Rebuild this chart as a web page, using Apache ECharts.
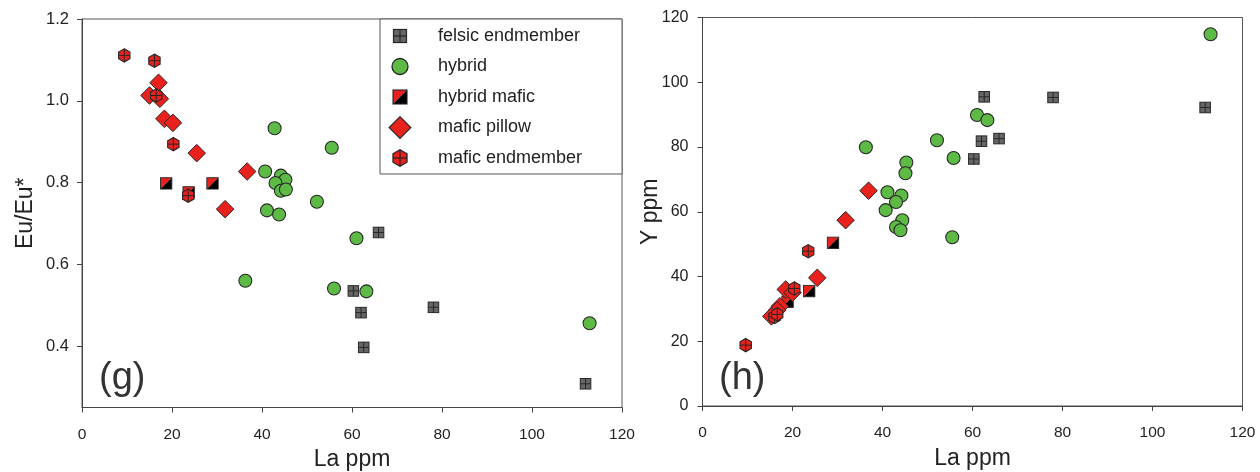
<!DOCTYPE html>
<html>
<head>
<meta charset="utf-8">
<title>Eu/Eu* and Y vs La</title>
<script src="https://cdn.jsdelivr.net/npm/echarts@6/dist/echarts.min.js"></script>
<style>
  html, body { margin: 0; padding: 0; background: #fff; }
  #main { width: 1260px; height: 472px; }
</style>
</head>
<body>
<div id="main"></div>
<script>
// La ppm vs Eu/Eu*  (panel g)
var felsicG = [[65.9, 0.678], [60.3, 0.535], [62.0, 0.482], [62.6, 0.397], [78.1, 0.495], [111.9, 0.308]];
var hybridG = [[42.8, 0.933], [55.5, 0.885], [40.7, 0.827], [44.2, 0.817], [45.2, 0.807], [43.0, 0.799],
    [44.2, 0.780], [45.3, 0.783], [52.2, 0.753], [41.1, 0.732], [43.8, 0.722], [61.0, 0.664],
    [36.3, 0.560], [56.0, 0.541], [63.2, 0.534], [112.8, 0.456]];
var hybridMaficG = [[18.7, 0.798], [29.0, 0.798], [23.7, 0.776]];
var pillowG = [[17.0, 1.044], [15.0, 1.013], [17.3, 1.005], [18.3, 0.956], [20.2, 0.946], [25.5, 0.872],
    [36.7, 0.827], [31.8, 0.735]];
var endmemberG = [[9.4, 1.111], [16.1, 1.098], [16.5, 1.013], [20.3, 0.894], [23.6, 0.768]];

// La ppm vs Y ppm  (panel h)
var felsicH = [[62.6, 95.5], [77.9, 95.3], [111.7, 92.2], [62.0, 81.8], [65.9, 82.6], [60.3, 76.3]];
var hybridH = [[36.3, 79.9], [52.1, 82.1], [55.8, 76.6], [61.0, 89.9], [63.3, 88.3], [45.3, 75.2],
    [45.1, 71.9], [41.1, 66.0], [44.2, 65.0], [43.0, 63.0], [40.7, 60.5], [44.4, 57.4],
    [43.0, 55.3], [44.0, 54.3], [55.5, 52.1], [112.9, 114.8]];
var hybridMaficH = [[29.0, 50.4], [23.7, 35.5], [18.9, 32.2]];
var pillowH = [[36.9, 66.5], [31.8, 57.4], [25.5, 39.6], [18.5, 36.0], [17.2, 30.8], [16.6, 29.6],
    [15.3, 27.7], [20.0, 35.0]];
var endmemberH = [[9.6, 18.8], [16.0, 27.5], [16.6, 28.3], [20.4, 36.3], [23.5, 47.8]];

var groupNames = ['felsic endmember', 'hybrid', 'hybrid mafic', 'mafic pillow', 'mafic endmember'];
var euTicks = [0.4, 0.6, 0.8, 1.0, 1.2];

// marker pictures (24x24 box so legend and plot keep relative sizes)
function svgIcon(body) {
    var svg = '<svg xmlns="http://www.w3.org/2000/svg" width="48" height="48" viewBox="0 0 24 24">' + body + '</svg>';
    return 'image://data:image/svg+xml;charset=utf-8,' + encodeURIComponent(svg);
}
var RED = '#e8211d', GREEN = '#5dba45', GRAY = '#666', EDGE = '#262626';
var icons = [
    svgIcon('<rect x="5.5" y="5.5" width="13" height="13" fill="' + GRAY + '" stroke="' + EDGE + '" stroke-width="1.2"/>' +
        '<line x1="12" y1="5.5" x2="12" y2="18.5" stroke="' + EDGE + '" stroke-width="1.2"/>' +
        '<line x1="5.5" y1="12" x2="18.5" y2="12" stroke="' + EDGE + '" stroke-width="1.2"/>'),
    svgIcon('<circle cx="12" cy="12" r="8" fill="' + GREEN + '" stroke="' + EDGE + '" stroke-width="1.3"/>'),
    svgIcon('<polygon points="5,5 19,5 5,19" fill="' + RED + '"/><polygon points="19,5 19,19 5,19" fill="#000"/>' +
        '<rect x="5" y="5" width="14" height="14" fill="none" stroke="' + EDGE + '" stroke-width="1.1"/>'),
    svgIcon('<polygon points="12,1.2 22.8,12 12,22.8 1.2,12" fill="' + RED + '" stroke="' + EDGE + '" stroke-width="1.2"/>'),
    svgIcon('<polygon points="12,3.8 19,7.8 19,16.2 12,20.2 5,16.2 5,7.8" fill="' + RED + '" stroke="' + EDGE + '" stroke-width="1.3"/>' +
        '<line x1="12" y1="3.8" x2="12" y2="20.2" stroke="' + EDGE + '" stroke-width="1.2"/>' +
        '<line x1="5" y1="12" x2="19" y2="12" stroke="' + EDGE + '" stroke-width="1.2"/>')
];

var FONT = 'Liberation Sans, Arial, Helvetica, sans-serif';
var TXT = '#222';

var myChart = echarts.init(document.getElementById('main'));

function xAxisFor(idx) {
    return {
        gridIndex: idx, type: 'value', min: 0, max: 120, interval: 20,
        name: 'La ppm', nameLocation: 'middle', nameGap: 41, nameMoveOverlap: false,
        nameTextStyle: {fontSize: 23, color: TXT, fontFamily: FONT},
        axisLine: {lineStyle: {color: '#444', width: 1}},
        axisTick: {show: true, inside: false, length: 5, lineStyle: {color: '#444'}},
        axisLabel: {fontSize: 15.5, color: TXT, fontFamily: FONT, margin: 19},
        splitLine: {show: false}
    };
}

var series = [];
var gData = [felsicG, hybridG, hybridMaficG, pillowG, endmemberG];
var hData = [felsicH, hybridH, hybridMaficH, pillowH, endmemberH];
groupNames.forEach(function (name, i) {
    series.push({
        name: name, type: 'scatter', xAxisIndex: 0, yAxisIndex: 0,
        symbol: icons[i], symbolSize: 19.5, data: gData[i], z: 2 + i,
        itemStyle: {opacity: 1}
    });
    series.push({
        name: name, type: 'scatter', xAxisIndex: 1, yAxisIndex: 1,
        symbol: icons[i], symbolSize: 19.5, data: hData[i], z: 2 + i,
        itemStyle: {opacity: 1}
    });
});

var option = {
    animation: false,
    backgroundColor: '#fff',
    grid: [
        {left: 82, right: 638, top: 19, bottom: 64.5, show: true, borderColor: '#555', borderWidth: 1,
            outerBoundsMode: 'none', containLabel: false},
        {left: 702.5, right: 17.5, top: 17.5, bottom: 66, show: true, borderColor: '#555', borderWidth: 1,
            outerBoundsMode: 'none', containLabel: false}
    ],
    xAxis: [xAxisFor(0), xAxisFor(1)],
    yAxis: [{
        gridIndex: 0, type: 'value', min: 0.25, max: 1.2,
        name: 'Eu/Eu*', nameLocation: 'middle', nameGap: 45, nameMoveOverlap: false,
        nameTextStyle: {fontSize: 23, color: TXT, fontFamily: FONT},
        axisLine: {lineStyle: {color: '#444', width: 1}},
        axisTick: {show: true, length: 5, customValues: euTicks, lineStyle: {color: '#444'}},
        axisLabel: {fontSize: 16.5, color: TXT, fontFamily: FONT, margin: 13, customValues: euTicks,
            formatter: function (v) { return v.toFixed(1); }},
        splitLine: {show: false}
    }, {
        gridIndex: 1, type: 'value', min: 0, max: 120, interval: 20,
        name: 'Y ppm', nameLocation: 'middle', nameGap: 40, nameMoveOverlap: false,
        nameTextStyle: {fontSize: 23, color: TXT, fontFamily: FONT},
        axisLine: {lineStyle: {color: '#444', width: 1}},
        axisTick: {show: true, length: 5, lineStyle: {color: '#444'}},
        axisLabel: {fontSize: 16, color: TXT, fontFamily: FONT, margin: 14},
        splitLine: {show: false}
    }],
    legend: {
        orient: 'vertical', left: 380, top: 19,
        padding: [5, 40, 4, 8], itemGap: 6.5, itemWidth: 24, itemHeight: 24,
        borderColor: '#555', borderWidth: 1, backgroundColor: '#fff',
        textStyle: {fontSize: 18, color: TXT, fontFamily: FONT, padding: [0, 0, 0, 21]},
        data: groupNames.map(function (n, i) { return {name: n, icon: icons[i]}; }),
        selectedMode: false
    },
    graphic: [
        {type: 'text', left: 99, top: 360, style: {text: '(g)', fontSize: 38, fill: '#333', fontFamily: FONT}},
        {type: 'text', left: 719, top: 360, style: {text: '(h)', fontSize: 38, fill: '#333', fontFamily: FONT}}
    ],
    series: series
};

myChart.setOption(option);
</script>
</body>
</html>
